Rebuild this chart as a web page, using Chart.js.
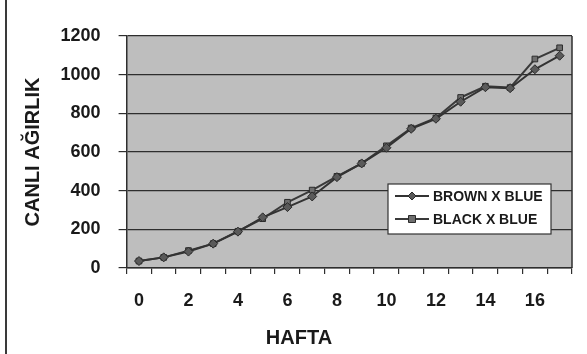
<!DOCTYPE html>
<html>
<head>
<meta charset="utf-8">
<script src="https://cdn.jsdelivr.net/npm/chart.js@4"></script>
<style>
  html, body { margin: 0; padding: 0; background: #fff; }
  #wrap { position: relative; width: 587px; height: 354px; }
  #kenar { position: absolute; left: 5px; top: 0; width: 2px; height: 354px; background: #3a3a3a; }
</style>
</head>
<body>
<div id="wrap">
  <canvas id="grafik" width="587" height="354"></canvas>
  <div id="kenar"></div>
</div>
<script>
// veriler
var haftalar = [0, 1, 2, 3, 4, 5, 6, 7, 8, 9, 10, 11, 12, 13, 14, 15, 16, 17];
var xEtiketleri = [0, 2, 4, 6, 8, 10, 12, 14, 16];
var yEtiketleri = [0, 200, 400, 600, 800, 1000, 1200];
var brownXBlue = [36, 55, 85, 126, 188, 262, 315, 370, 470, 541, 622, 720, 772, 860, 935, 930, 1028, 1098];
var blackXBlue = [36, 55, 90, 126, 190, 255, 340, 403, 474, 541, 632, 724, 776, 882, 940, 933, 1081, 1139];

var yaziTipi = '"Liberation Sans", Arial, sans-serif';
var koyu = '#2e2e2e';

// grafik alani arka plani ve cercevesi
var arkaPlan = {
    id: 'arkaPlan',
    beforeDraw: function(chart){
        var a = chart.chartArea, ctx = chart.ctx;
        ctx.save();
        ctx.fillStyle = '#bebebe';
        ctx.fillRect(a.left, a.top, a.right - a.left, a.bottom - a.top);
        ctx.restore();
    },
    afterDatasetsDraw: function(chart){
        var a = chart.chartArea, ctx = chart.ctx;
        ctx.save();
        ctx.strokeStyle = koyu;
        ctx.lineWidth = 1.5;
        ctx.beginPath();
        ctx.moveTo(a.right, a.top);
        ctx.lineTo(a.right, a.bottom);
        ctx.stroke();
        ctx.restore();
    }
};

// x ekseni basligi (sola kaymis)
var xBaslik = {
    id: 'xBaslik',
    afterDraw: function(chart){
        var ctx = chart.ctx;
        ctx.save();
        ctx.font = 'bold 20px ' + yaziTipi;
        ctx.fillStyle = '#1a1a1a';
        ctx.textAlign = 'center';
        ctx.textBaseline = 'middle';
        ctx.fillText('HAFTA', 299, 338);
        ctx.restore();
    }
};

// lejant kutusu
var lejant = {
    id: 'lejant',
    afterDraw: function(chart){
        var ctx = chart.ctx;
        var x = 388, y = 184, w = 163, h = 50;
        ctx.save();
        ctx.fillStyle = '#ffffff';
        ctx.fillRect(x, y, w, h);
        ctx.strokeStyle = '#333';
        ctx.lineWidth = 1.2;
        ctx.strokeRect(x, y, w, h);
        ctx.font = 'bold 14px ' + yaziTipi;
        ctx.textBaseline = 'middle';
        chart.data.datasets.forEach(function(ds, i){
            var cy = y + 12 + i * 23;
            ctx.strokeStyle = ds.borderColor;
            ctx.lineWidth = 2;
            ctx.beginPath();
            ctx.moveTo(x + 7, cy);
            ctx.lineTo(x + 41, cy);
            ctx.stroke();
            ctx.fillStyle = ds.pointBackgroundColor;
            ctx.strokeStyle = ds.pointBorderColor;
            ctx.lineWidth = 1;
            ctx.beginPath();
            if (ds.pointStyle === 'rectRot') {
                ctx.moveTo(x + 24, cy - 4);
                ctx.lineTo(x + 28, cy);
                ctx.lineTo(x + 24, cy + 4);
                ctx.lineTo(x + 20, cy);
                ctx.closePath();
            } else {
                ctx.rect(x + 20.5, cy - 3.5, 7, 7);
            }
            ctx.fill();
            ctx.stroke();
            ctx.fillStyle = '#1a1a1a';
            ctx.fillText(ds.label, x + 45, cy + 1);
        });
        ctx.restore();
    }
};

new Chart(document.getElementById('grafik'), {
    type: 'line',
    data: {
        labels: haftalar,
        datasets: [
            {
                label: 'BROWN X BLUE',
                data: brownXBlue,
                borderColor: '#333333',
                borderWidth: 2,
                pointStyle: 'rectRot',
                pointRadius: 4.5,
                pointBackgroundColor: '#5a5a5a',
                pointBorderColor: '#2a2a2a',
                pointBorderWidth: 1,
                tension: 0
            },
            {
                label: 'BLACK X BLUE',
                data: blackXBlue,
                borderColor: '#3a3a3a',
                borderWidth: 2,
                pointStyle: 'rect',
                pointRadius: 4,
                pointBackgroundColor: '#6e6e6e',
                pointBorderColor: '#2a2a2a',
                pointBorderWidth: 1,
                tension: 0
            }
        ]
    },
    options: {
        responsive: false,
        animation: false,
        layout: { padding: { top: 36, right: 15, bottom: 0, left: 0 } },
        plugins: {
            legend: { display: false },
            tooltip: { enabled: false }
        },
        scales: {
            x: {
                type: 'category',
                offset: true,
                grid: {
                    offset: true,
                    drawOnChartArea: false,
                    drawTicks: true,
                    tickLength: 6,
                    color: koyu,
                    lineWidth: 1.2
                },
                border: { display: true, color: koyu, width: 1.5 },
                ticks: {
                    autoSkip: false,
                    maxRotation: 0,
                    padding: 16,
                    color: '#1a1a1a',
                    font: { family: yaziTipi, size: 18, weight: 'bold' },
                    callback: function(val, i){
                        var h = haftalar[i];
                        return xEtiketleri.indexOf(h) >= 0 ? String(h) : '';
                    }
                },
                afterFit: function(scale){ scale.height = 86; }
            },
            y: {
                min: yEtiketleri[0],
                max: yEtiketleri[yEtiketleri.length - 1],
                ticks: {
                    stepSize: 200,
                    padding: 18,
                    color: '#1a1a1a',
                    font: { family: yaziTipi, size: 18, weight: 'bold' },
                    callback: function(val){ return String(val); }
                },
                grid: {
                    color: koyu,
                    lineWidth: 1.2,
                    tickLength: 8
                },
                border: { display: true, color: koyu, width: 1.5 },
                title: {
                    display: true,
                    text: 'CANLI AĞIRLIK',
                    color: '#1a1a1a',
                    font: { family: yaziTipi, size: 20, weight: 'bold' },
                    padding: { top: 21, bottom: 0 }
                },
                afterFit: function(scale){ scale.width = 126.6; }
            }
        }
    },
    plugins: [arkaPlan, xBaslik, lejant]
});
</script>
</body>
</html>
